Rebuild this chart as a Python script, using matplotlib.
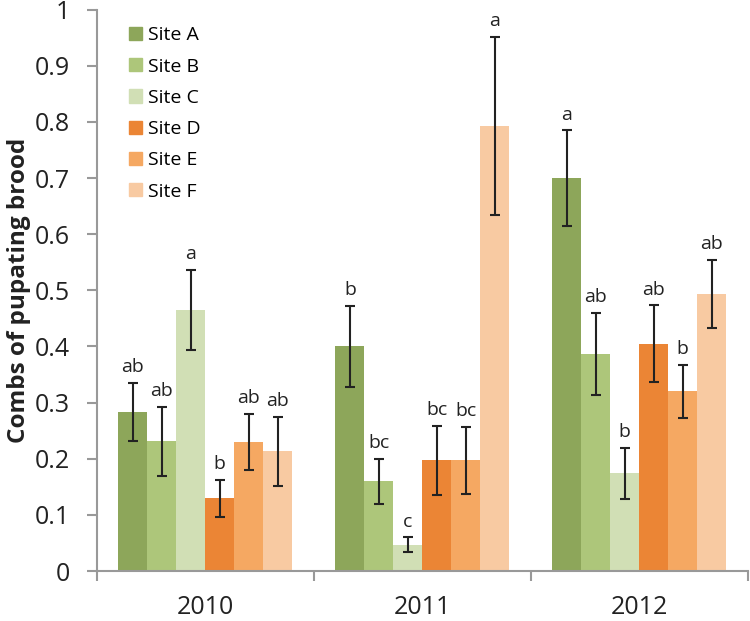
import numpy as np
import matplotlib.pyplot as plt
from matplotlib.patches import Patch

years = ["2010", "2011", "2012"]
sites = ["Site A", "Site B", "Site C", "Site D", "Site E", "Site F"]
colors = ["#8DA65A", "#ADC67A", "#D1DFB5", "#EB8535", "#F5A862", "#F8CAA2"]

# valores por local (2010, 2011, 2012)
means = [
    [0.283, 0.400, 0.700],
    [0.231, 0.160, 0.387],
    [0.465, 0.047, 0.174],
    [0.130, 0.197, 0.405],
    [0.230, 0.197, 0.320],
    [0.213, 0.793, 0.493],
]
errors = [
    [0.052, 0.072, 0.085],
    [0.062, 0.040, 0.073],
    [0.072, 0.013, 0.045],
    [0.033, 0.062, 0.068],
    [0.050, 0.060, 0.047],
    [0.062, 0.158, 0.061],
]
letters = [
    ["ab", "b", "a"],
    ["ab", "bc", "ab"],
    ["a", "c", "b"],
    ["b", "bc", "ab"],
    ["ab", "bc", "b"],
    ["ab", "a", "ab"],
]
ytick_labels = ["0", "0.1", "0.2", "0.3", "0.4", "0.5", "0.6", "0.7", "0.8", "0.9", "1"]

plt.rcParams['font.family'] = ['Open Sans', 'DejaVu Sans']

fig = plt.figure(figsize=(7.5, 6.21), dpi=100)
ax = fig.add_axes([0.129, 0.0805, 0.868, 0.904])

x = np.arange(len(years))
w = 0.8 / len(sites)
for i in range(len(sites)):
    pos = x - 0.4 + w * (i + 0.5)
    ax.bar(pos, means[i], width=w, color=colors[i], label=sites[i])
    ax.errorbar(pos, means[i], yerr=errors[i], fmt='none', ecolor='#222222',
                elinewidth=1.5, capsize=3.7, capthick=1.5)
    for j in range(len(years)):
        ax.text(pos[j], means[i][j] + errors[i][j] + 0.012, letters[i][j],
                ha='center', va='bottom', fontsize=14, color='#222222')

ax.set_xlim(-0.5, 2.5)
ax.set_ylim(0, 1)
ax.set_yticks(np.arange(0, 1.01, 0.1))
ax.set_yticklabels(ytick_labels)
ax.set_xticks(x)
ax.set_xticklabels(years)
ax.set_xticks([-0.5, 0.5, 1.5, 2.5], minor=True)
ax.tick_params(axis='x', which='major', length=0, labelsize=18, pad=17, labelcolor='#222222')
ax.tick_params(axis='x', which='minor', length=7, width=1.5, color='#999999', direction='out')
ax.tick_params(axis='y', length=7, width=1.5, color='#999999', labelsize=18, pad=12,
               direction='out', labelcolor='#222222')
for s in ['top', 'right']:
    ax.spines[s].set_visible(False)
for s in ['left', 'bottom']:
    ax.spines[s].set_color('#999999')
    ax.spines[s].set_linewidth(1.5)
ax.set_ylabel("Combs of pupating brood", fontsize=17.5, fontweight='bold', labelpad=3,
              color='#222222')

handles = [Patch(color=c) for c in colors]
ax.legend(handles, sites, loc='upper left', bbox_to_anchor=(0.05, 0.97), frameon=False,
          fontsize=14, handlelength=0.67, handleheight=0.67, labelspacing=0.68,
          handletextpad=0.3, borderpad=0, borderaxespad=0)

fig.savefig("out.png", dpi=100)
